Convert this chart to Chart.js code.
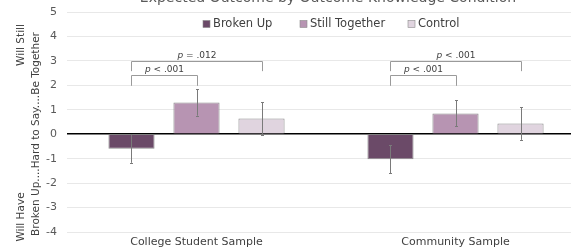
<!DOCTYPE html>
<html>
<head>
<meta charset="utf-8">
<script src="https://cdn.jsdelivr.net/npm/chart.js@4/dist/chart.umd.min.js"></script>
<style>
  html, body { margin: 0; padding: 0; overflow: hidden; background: #fff; }
  #wrap { width: 600px; height: 251px; }
</style>
</head>
<body>
<div id="wrap"><canvas id="chart" width="600" height="251"></canvas></div>
<script>
// data
const categories = ['College Student Sample', 'Community Sample'];
const seriesNames = ['Broken Up', 'Still Together', 'Control'];
const brokenUp = [-0.59, -1.02];
const stillTogether = [1.30, 0.85];
const control = [0.64, 0.44];
const brokenUpErr = [0.58, 0.58];
const stillTogetherErr = [0.54, 0.53];
const controlErr = [0.66, 0.67];
const yTickValues = [-4, -3, -2, -1, 0, 1, 2, 3, 4, 5];

// significance brackets: category, bar from/to, level (0 inner, 1 outer), label
const comparisons = [
    { cat: 0, from: 0, to: 1, level: 0, p: '< .001' },
    { cat: 0, from: 0, to: 2, level: 1, p: '= .012' },
    { cat: 1, from: 0, to: 1, level: 0, p: '< .001' },
    { cat: 1, from: 0, to: 2, level: 1, p: '< .001' }
];
const bracketLevels = [{ top: 2.42, leg: 1.98 }, { top: 3.0, leg: 2.58 }];

const colors = ['#6b4a68', '#b794b2', '#e0d4df'];
const errors = [brokenUpErr, stillTogetherErr, controlErr];
const FONT = "'DejaVu Sans', sans-serif";

// error bars
const errorBarPlugin = {
    id: 'errorBars',
    afterDatasetsDraw(chart) {
        const ctx = chart.ctx;
        const y = chart.scales.y;
        ctx.save();
        ctx.strokeStyle = '#7a7a7a';
        ctx.lineWidth = 1;
        chart.data.datasets.forEach((ds, i) => {
            const meta = chart.getDatasetMeta(i);
            meta.data.forEach((bar, j) => {
                const v = ds.data[j];
                const e = errors[i][j];
                const x = Math.round(bar.x) + 0.5;
                const y1 = y.getPixelForValue(v + e);
                const y2 = y.getPixelForValue(v - e);
                ctx.beginPath();
                ctx.moveTo(x, y1); ctx.lineTo(x, y2);
                ctx.moveTo(x - 1.5, Math.round(y1) + 0.5); ctx.lineTo(x + 1.5, Math.round(y1) + 0.5);
                ctx.moveTo(x - 1.5, Math.round(y2) + 0.5); ctx.lineTo(x + 1.5, Math.round(y2) + 0.5);
                ctx.stroke();
            });
        });
        ctx.restore();
    }
};

// brackets with p values
const bracketPlugin = {
    id: 'brackets',
    afterDatasetsDraw(chart) {
        const ctx = chart.ctx;
        const y = chart.scales.y;
        ctx.save();
        ctx.strokeStyle = '#9a9a9a';
        ctx.lineWidth = 1;
        comparisons.forEach(c => {
            const lv = bracketLevels[c.level];
            const x1 = Math.round(chart.getDatasetMeta(c.from).data[c.cat].x) + 0.5;
            const x2 = Math.round(chart.getDatasetMeta(c.to).data[c.cat].x) + 0.5;
            const yt = Math.round(y.getPixelForValue(lv.top)) + 0.5;
            const yl = y.getPixelForValue(lv.leg);
            ctx.beginPath();
            ctx.moveTo(x1, yl); ctx.lineTo(x1, yt); ctx.lineTo(x2, yt); ctx.lineTo(x2, yl);
            ctx.stroke();

            // label: italic p + rest
            const italic = 'italic 9px ' + FONT;
            const normal = '9px ' + FONT;
            ctx.font = italic;
            const wp = ctx.measureText('p ').width;
            ctx.font = normal;
            const wr = ctx.measureText(c.p).width;
            let tx = (x1 + x2) / 2 - (wp + wr) / 2;
            const ty = yt - 4;
            ctx.fillStyle = '#404040';
            ctx.textBaseline = 'alphabetic';
            ctx.textAlign = 'left';
            ctx.font = italic;
            ctx.fillText('p ', tx, ty);
            ctx.font = normal;
            ctx.fillText(c.p, tx + wp, ty);
        });
        ctx.restore();
    }
};

// title, legend and two-line y axis title
const decorPlugin = {
    id: 'decor',
    afterDraw(chart) {
        const ctx = chart.ctx;
        ctx.save();
        // title (cut off at the top in the original)
        ctx.fillStyle = '#595959';
        ctx.font = '14px ' + FONT;
        ctx.textAlign = 'center';
        ctx.textBaseline = 'alphabetic';
        ctx.fillText('Expected Outcome by Outcome Knowledge Condition', 328, 2);

        // legend
        const legendX = [203, 300, 408];
        ctx.font = '11.5px ' + FONT;
        ctx.textAlign = 'left';
        ctx.textBaseline = 'middle';
        seriesNames.forEach((name, i) => {
            ctx.fillStyle = colors[i];
            ctx.fillRect(legendX[i], 20.5, 7, 7);
            ctx.strokeStyle = '#8a8a8a';
            ctx.lineWidth = 0.6;
            ctx.strokeRect(legendX[i], 20.5, 7, 7);
            ctx.fillStyle = '#404040';
            ctx.fillText(name, legendX[i] + 10, 24.5);
        });

        // y axis title
        ctx.fillStyle = '#404040';
        ctx.font = '10.5px ' + FONT;
        ctx.textAlign = 'center';
        ctx.textBaseline = 'middle';
        const drawV = (text, x, y) => {
            ctx.save();
            ctx.translate(x, y);
            ctx.rotate(-Math.PI / 2);
            ctx.fillText(text, 0, 0);
            ctx.restore();
        };
        drawV('Will Still', 21, 45);
        drawV('Will Have', 21, 217);
        drawV('Broken Up....Hard to Say....Be Together', 36, 134);
        ctx.restore();
    }
};

new Chart(document.getElementById('chart'), {
    type: 'bar',
    data: {
        labels: categories,
        datasets: [
            { label: seriesNames[0], data: brokenUp, backgroundColor: colors[0] },
            { label: seriesNames[1], data: stillTogether, backgroundColor: colors[1] },
            { label: seriesNames[2], data: control, backgroundColor: colors[2] }
        ].map(d => Object.assign(d, {
            borderColor: '#8c8c8c',
            borderWidth: 1,
            categoryPercentage: 0.753,
            barPercentage: 0.71
        }))
    },
    options: {
        responsive: false,
        animation: false,
        devicePixelRatio: 1,
        layout: { padding: { top: 12, right: 15, left: 0, bottom: 0 } },
        plugins: {
            legend: { display: false },
            title: { display: false },
            tooltip: { enabled: false }
        },
        scales: {
            x: {
                grid: { display: false, drawTicks: false },
                border: { display: false },
                ticks: { color: '#404040', font: { family: FONT, size: 11 }, padding: 4 },
                afterFit: s => { s.height = 19; }
            },
            y: {
                min: -4,
                max: 5,
                afterBuildTicks: s => { s.ticks = yTickValues.map(v => ({ value: v })); },
                afterFit: s => {
                    s.width = 67;
                    s.paddingTop = 0;
                    s.paddingBottom = 0;
                },
                border: { display: false },
                grid: {
                    drawTicks: false,
                    color: c => c.tick && c.tick.value === 0 ? '#000000' : '#e8e8e8',
                    lineWidth: c => c.tick && c.tick.value === 0 ? 1.5 : 1,
                    z: 0
                },
                ticks: { color: '#595959', font: { family: FONT, size: 11 }, padding: 10 }
            }
        }
    },
    plugins: [errorBarPlugin, bracketPlugin, decorPlugin]
});
</script>
</body>
</html>
